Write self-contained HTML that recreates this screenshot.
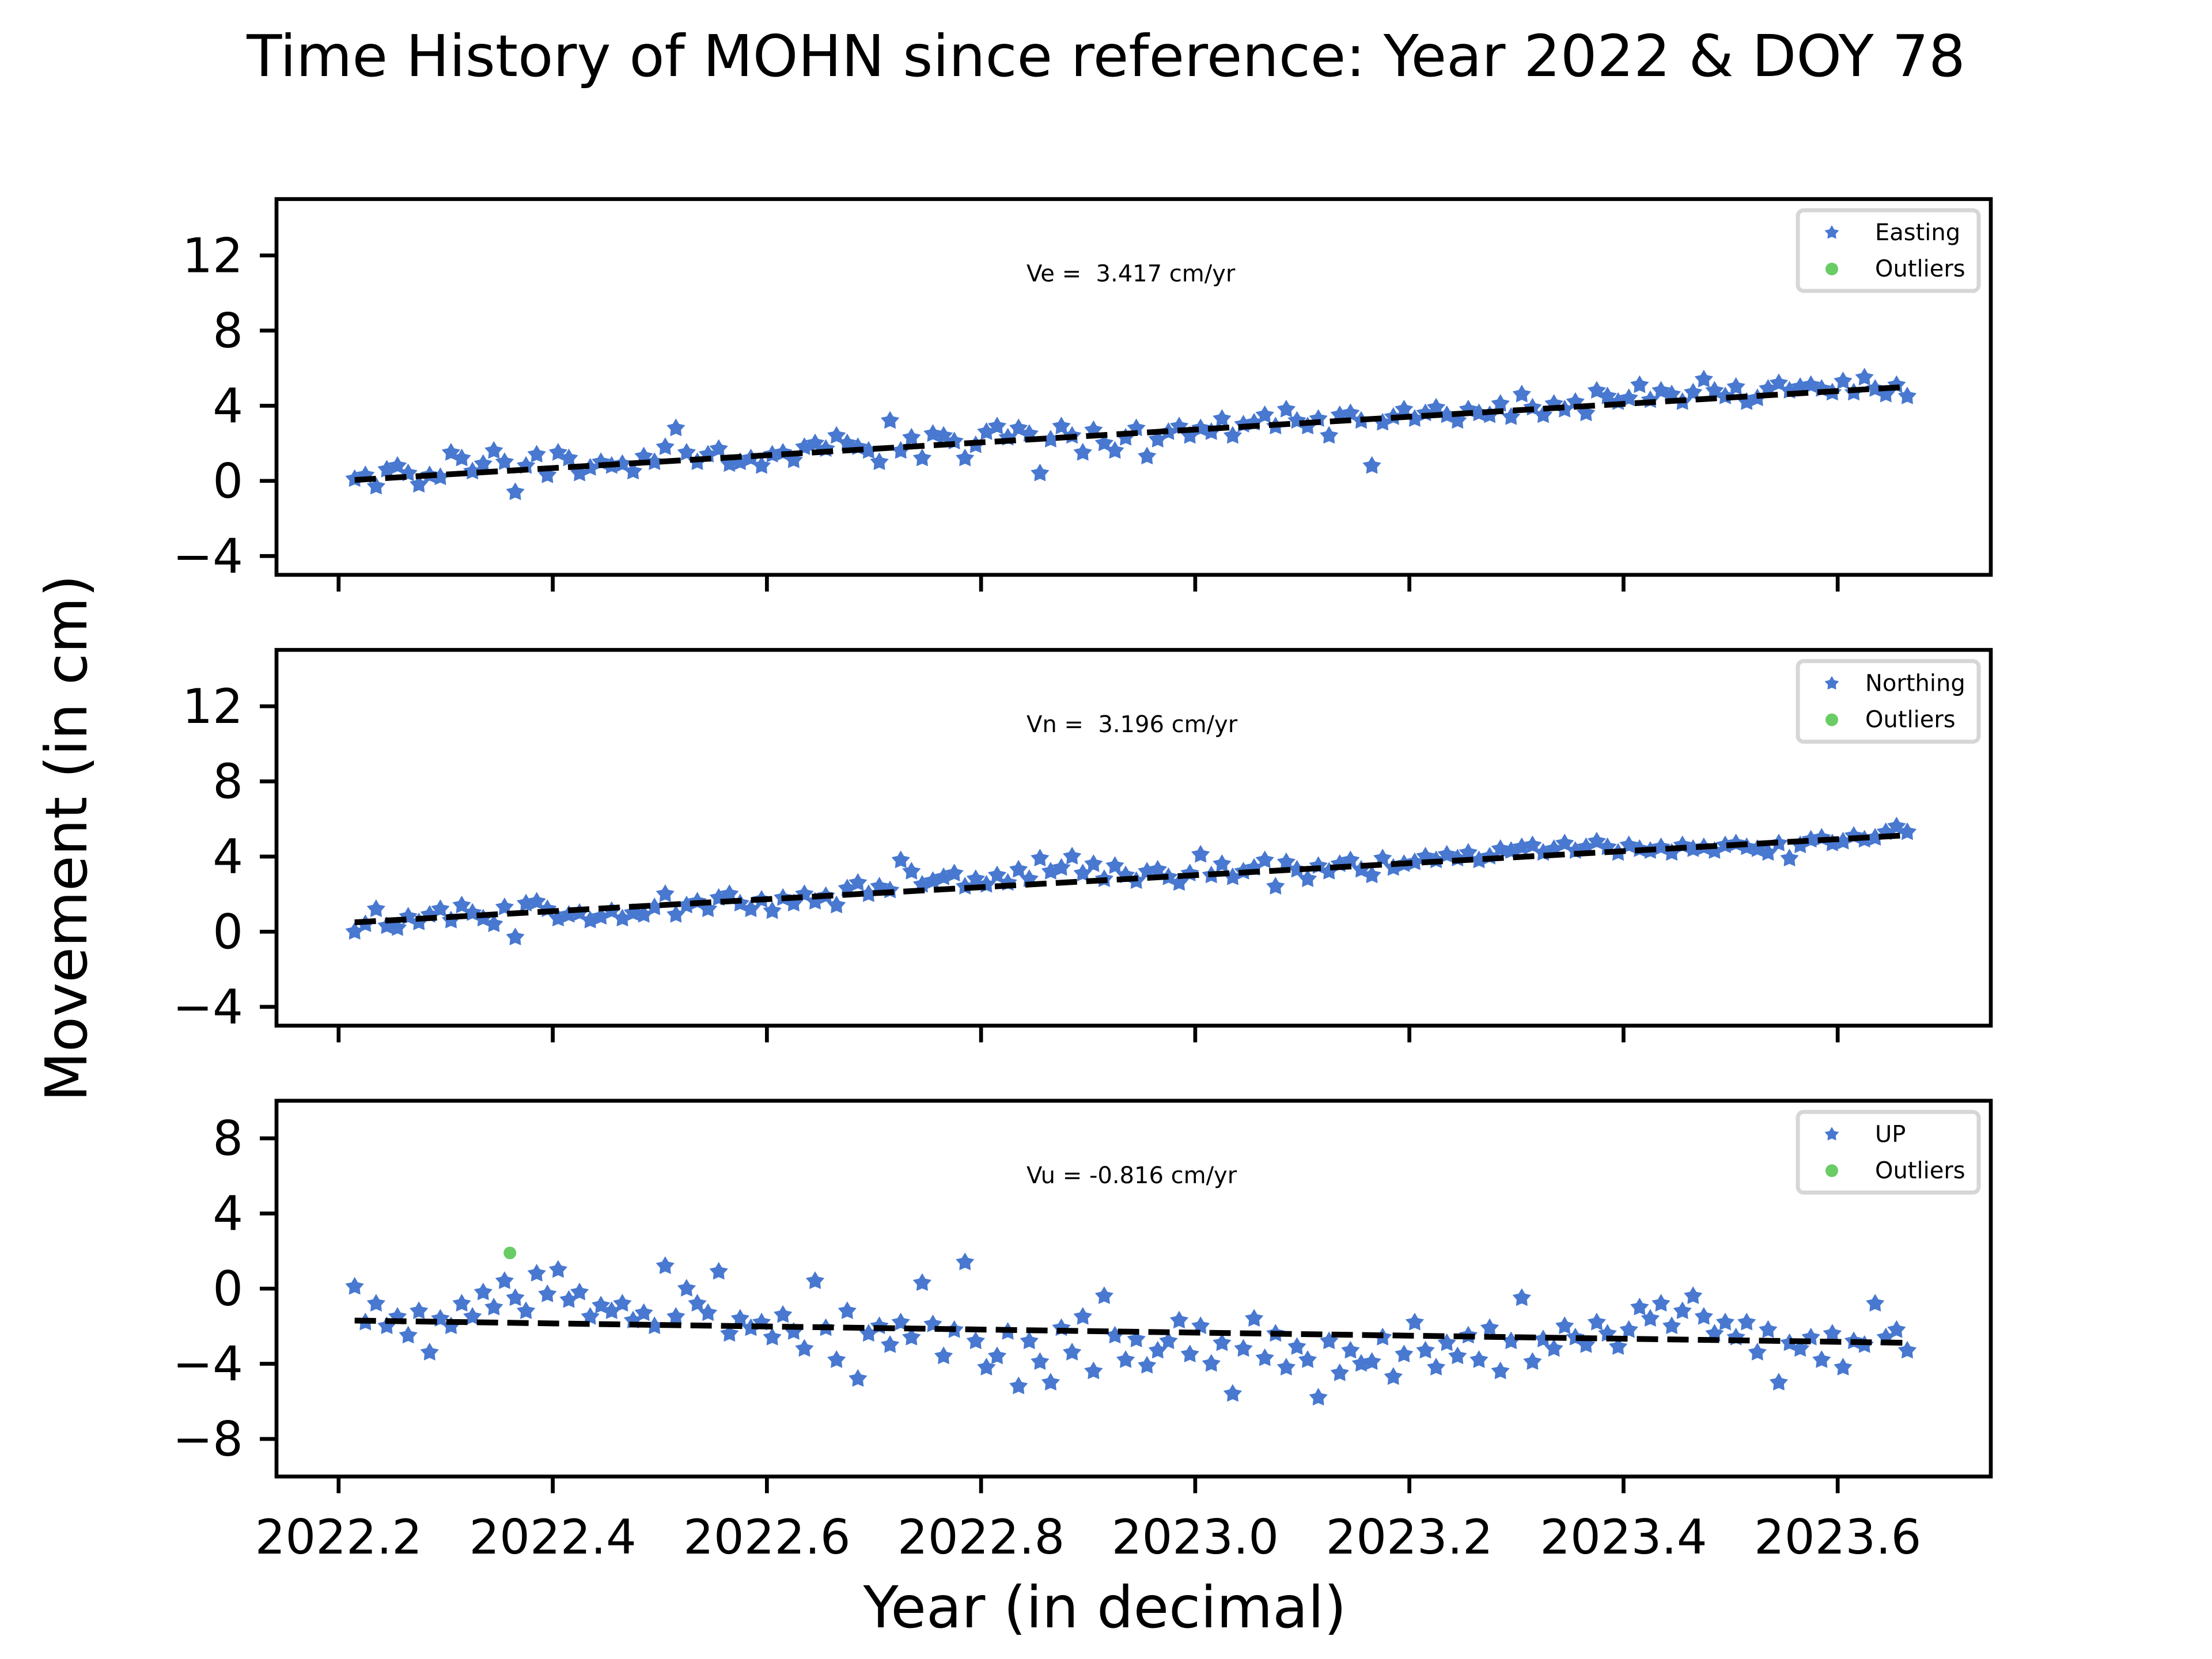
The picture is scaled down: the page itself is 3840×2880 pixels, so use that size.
<!DOCTYPE html>
<html><head><meta charset="utf-8"><style>
html,body{margin:0;padding:0;background:#fff;}
svg{display:block;font-family:"DejaVu Sans","Liberation Sans",sans-serif;}
</style></head><body>
<svg id="fig" width="3840" height="2880" viewBox="0 0 3840 2880" xmlns="http://www.w3.org/2000/svg">
<rect width="3840" height="2880" fill="#fff"/>
<text x="1920" y="132" font-size="100" text-anchor="middle">Time History of MOHN since reference: Year 2022 &amp; DOY 78</text>
<text x="0" y="0" font-size="100" text-anchor="middle" transform="translate(150,1455) rotate(-90)">Movement (in cm)</text>
<text x="1918" y="2825" font-size="100" text-anchor="middle">Year (in decimal)</text>
<g id="plots"></g>
</svg>
<script>
const startYear = 2022.215;
const stepYear = 0.01;
const xTicks = [2022.2, 2022.4, 2022.6, 2022.8, 2023.0, 2023.2, 2023.4, 2023.6];
const xTickLabels = ["2022.2","2022.4","2022.6","2022.8","2023.0","2023.2","2023.4","2023.6"];
const eastValues = [0.1,0.3,-0.3,0.6,0.8,0.4,-0.2,0.3,0.2,1.5,
1.2,0.5,0.9,1.6,1.0,-0.6,0.8,1.4,0.3,1.5,
1.2,0.4,0.7,1.0,0.8,0.9,0.5,1.3,1.0,1.8,
2.8,1.5,1.0,1.4,1.7,0.9,1.0,1.2,0.8,1.4,
1.5,1.1,1.8,2.0,1.7,2.4,2.0,1.8,1.6,1.0,
3.2,1.6,2.3,1.2,2.5,2.4,2.1,1.2,1.9,2.6,
2.9,2.3,2.8,2.5,0.4,2.2,2.9,2.4,1.5,2.7,
2.0,1.6,2.3,2.8,1.3,2.2,2.6,2.9,2.4,2.8,
2.6,3.3,2.4,3.0,3.1,3.5,2.9,3.8,3.2,2.9,
3.3,2.4,3.5,3.6,3.2,0.8,3.1,3.4,3.8,3.3,
3.6,3.9,3.5,3.2,3.8,3.6,3.5,4.1,3.4,4.6,
3.9,3.5,4.1,3.8,4.2,3.6,4.8,4.5,4.2,4.4,
5.1,4.3,4.8,4.6,4.2,4.7,5.4,4.8,4.5,5.0,
4.2,4.4,4.9,5.2,4.8,5.0,5.1,4.9,4.7,5.3,
4.7,5.5,4.9,4.6,5.1,4.5];
const northValues = [0.0,0.4,1.2,0.3,0.2,0.8,0.5,0.9,1.2,0.6,
1.4,1.0,0.7,0.4,1.3,-0.3,1.5,1.6,1.2,0.7,
0.9,1.0,0.6,0.8,1.1,0.7,1.0,0.9,1.3,2.0,
0.9,1.4,1.6,1.2,1.8,2.0,1.5,1.2,1.7,1.1,
1.8,1.5,2.0,1.6,1.9,1.4,2.3,2.6,2.0,2.4,
2.2,3.8,3.2,2.5,2.7,2.9,3.1,2.4,2.8,2.5,
3.0,2.6,3.3,2.8,3.9,3.2,3.4,4.0,3.1,3.6,
2.8,3.5,3.0,2.7,3.2,3.3,2.9,2.6,3.1,4.1,
3.0,3.6,2.9,3.2,3.4,3.8,2.4,3.7,3.3,2.8,
3.5,3.2,3.6,3.8,3.3,3.0,3.9,3.4,3.6,3.7,
4.0,3.8,4.1,3.9,4.2,3.8,4.0,4.4,4.3,4.5,
4.6,4.2,4.4,4.7,4.3,4.5,4.8,4.5,4.2,4.6,
4.4,4.3,4.5,4.2,4.6,4.4,4.5,4.3,4.6,4.7,
4.5,4.4,4.2,4.7,3.9,4.6,4.9,5.0,4.7,4.8,
5.1,4.9,5.0,5.3,5.6,5.3];
const upValues = [0.1,-1.8,-0.8,-2.0,-1.5,-2.5,-1.2,-3.4,-1.6,-2.0,
-0.8,-1.5,-0.2,-1.0,0.4,-0.5,-1.2,0.8,-0.3,1.0,
-0.6,-0.2,-1.5,-0.9,-1.2,-0.8,-1.7,-1.3,-2.0,1.2,
-1.5,0.0,-0.8,-1.3,0.9,-2.4,-1.6,-2.1,-1.8,-2.6,
-1.4,-2.3,-3.2,0.4,-2.1,-3.8,-1.2,-4.8,-2.4,-2.0,
-3.0,-1.8,-2.6,0.3,-1.9,-3.6,-2.2,1.4,-2.8,-4.2,
-3.6,-2.3,-5.2,-2.8,-3.9,-5.0,-2.1,-3.4,-1.5,-4.4,
-0.4,-2.5,-3.8,-2.7,-4.1,-3.3,-2.8,-1.7,-3.5,-2.0,
-4.0,-2.9,-5.6,-3.2,-1.6,-3.7,-2.4,-4.2,-3.1,-3.8,
-5.8,-2.8,-4.5,-3.3,-4.0,-3.9,-2.6,-4.7,-3.5,-1.8,
-3.3,-4.2,-2.9,-3.6,-2.5,-3.8,-2.1,-4.4,-2.8,-0.5,
-3.9,-2.7,-3.2,-2.0,-2.6,-3.0,-1.8,-2.4,-3.1,-2.2,
-1.0,-1.6,-0.8,-2.0,-1.2,-0.4,-1.5,-2.4,-1.8,-2.6,
-1.8,-3.4,-2.2,-5.0,-2.9,-3.2,-2.6,-3.8,-2.4,-4.2,
-2.8,-3.0,-0.8,-2.6,-2.2,-3.3];
const upOutlierYears = [2022.36];
const upOutlierValues = [1.9];
const trendStart = [0.05, 0.5, -1.7];
const trendRates = [3.417, 3.196, -0.816];
const panelNames = ["Easting","Northing","UP"];
const velocityLabels = ["Ve =  3.417 cm/yr","Vn =  3.196 cm/yr","Vu = -0.816 cm/yr"];
const yTicksEN = [-4,0,4,8,12];
const yTicksUp = [-8,-4,0,4,8];

const NS="http://www.w3.org/2000/svg";
const L=480,R=3456,X0=2022.142,X1=2023.743;
const xs=v=>L+(v-X0)/(X1-X0)*(R-L);
function mk(tag,attrs,parent){const e=document.createElementNS(NS,tag);for(const k in attrs)e.setAttribute(k,attrs[k]);parent.appendChild(e);return e;}
function starPath(cx,cy,r){let d="";for(let k=0;k<10;k++){const a=-Math.PI/2+k*Math.PI/5;const rr=k%2?r*0.55:r;d+=(k?"L":"M")+(cx+rr*Math.cos(a)).toFixed(1)+","+(cy+rr*Math.sin(a)).toFixed(1);}return d+"Z";}
const root=document.getElementById("plots");
const panels=[{top:345.6,ymin:-5,ymax:15,vals:eastValues,ticks:yTicksEN},
{top:1128.2,ymin:-5,ymax:15,vals:northValues,ticks:yTicksEN},
{top:1910.9,ymin:-10,ymax:10,vals:upValues,ticks:yTicksUp}];
const H=652.3;
panels.forEach((p,pi)=>{
  const g=mk("g",{},root);
  
  
  const ys=v=>p.top+(p.ymax-v)/(p.ymax-p.ymin)*H;
  const bot=p.top+H;
  p.ticks.forEach(t=>{
    const y=ys(t);
    const tk=mk("line",{x1:L-29,x2:L,y1:y,y2:y,stroke:"#000","stroke-width":6.7},g);
    
    
    const tl=mk("text",{x:L-58,y:y+29,"font-size":83,"text-anchor":"end"},g);
    
    
    tl.textContent=t<0?"\u2212"+Math.abs(t):String(t);
  });
  xTicks.forEach((t,ti)=>{
    const x=xs(t);
    const tk=mk("line",{x1:x,x2:x,y1:bot,y2:bot+29,stroke:"#000","stroke-width":6.7},g);
    
    
    if(pi===2){
      const tl=mk("text",{x:x,y:bot+134,"font-size":83,"text-anchor":"middle"},g);
      
      
      tl.textContent=xTickLabels[ti];
    }
  });
  let d="";
  p.vals.forEach((v,i)=>{d+=starPath(xs(startYear+i*stepYear),ys(v),17);});
  const pts=mk("path",{d:d,fill:"#4878d0"},g);
  
  
  if(pi===2){
    upOutlierYears.forEach((yr,k)=>{
      const c=mk("circle",{cx:xs(yr),cy:ys(upOutlierValues[k]),r:11,fill:"#6acc64"},g);
      
      
    });
  }
  const t0=startYear,t1=startYear+(p.vals.length-1)*stepYear;
  const tr=mk("line",{x1:xs(t0),y1:ys(trendStart[pi]),x2:xs(t1),y2:ys(trendStart[pi]+trendRates[pi]*(t1-t0)),stroke:"#000","stroke-width":10,"stroke-dasharray":"37 16"},g);
  
  
  const fr=mk("rect",{x:L,y:p.top,width:R-L,height:H,fill:"none",stroke:"#000","stroke-width":6.7},g);
  
  
  const vl=mk("text",{x:1782,y:p.top+143,"font-size":40},g);
  
  
  vl.setAttribute('xml:space','preserve');
  vl.style.whiteSpace='pre';
  vl.textContent=velocityLabels[pi];
  const off=p.top-345.6;
  const lg=mk("g",{},g);
  
  
  mk("rect",{x:3121,y:365+off,width:314,height:140,rx:10,fill:"#fff",stroke:"#d6d6d6","stroke-width":7},lg);
  mk("path",{d:starPath(3180,404+off,13),fill:"#4878d0"},lg);
  const lx = pi===1 ? 3238 : 3255;
  const l1=mk("text",{x:lx,y:417+off,"font-size":40},lg);
  
  
  l1.textContent=panelNames[pi];
  mk("circle",{cx:3180,cy:467+off,r:11,fill:"#6acc64"},lg);
  const l2=mk("text",{x:lx,y:480+off,"font-size":40},lg);
  
  
  l2.textContent="Outliers";
});
</script>
</body></html>
